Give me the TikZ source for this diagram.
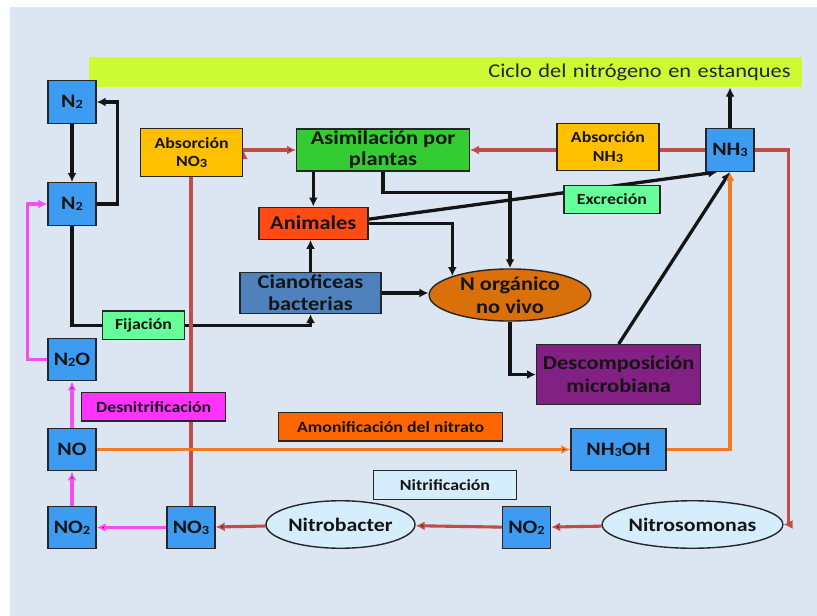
\documentclass[tikz,border=0pt]{standalone}
\usepackage{fontspec}
\setmainfont[FakeStretch=1.15]{Carlito}
\usepackage{tikz}
\usetikzlibrary{arrows}
\usetikzlibrary{arrows.meta}
\usetikzlibrary{shapes.geometric}

\definecolor{panel}{HTML}{DCE6F2}
\definecolor{lime}{HTML}{CCFA33}
\definecolor{chemblue}{HTML}{3D9BF2}
\definecolor{amber}{HTML}{FFC000}
\definecolor{leaf}{HTML}{33CC33}
\definecolor{redorange}{HTML}{FF4B14}
\definecolor{steel}{HTML}{4F81BD}
\definecolor{rustorg}{HTML}{D9700A}
\definecolor{plum}{HTML}{832083}
\definecolor{mint}{HTML}{66FF99}
\definecolor{pink1}{HTML}{FF33FF}
\definecolor{orange1}{HTML}{FF6600}
\definecolor{paleblue}{HTML}{D6EEFB}
\definecolor{rust}{HTML}{BF4E4A}
\definecolor{magline}{HTML}{F64CF6}
\definecolor{orgline}{HTML}{F57A1F}
\definecolor{boxline}{HTML}{262626}
\definecolor{txt}{HTML}{141414}
\definecolor{titletxt}{HTML}{262626}

\pgfdeclarelayer{back}
\pgfdeclarelayer{lines}
\pgfsetlayers{back,lines,main}

\newcommand{\sbs}[1]{\raisebox{-0.1ex}{\fontsize{12.5}{12.5}\selectfont #1}}

\begin{document}
\begin{tikzpicture}[x=1pt,y=-1pt,
	box/.style={draw=boxline,line width=1.4pt,inner sep=0pt,align=center,text=txt},
	chem/.style={box,fill=chemblue,minimum width=48pt,minimum height=42.5pt,font=\fontsize{19}{19}\selectfont\bfseries},
	tag/.style={box,minimum height=28.5pt,font=\fontsize{15.5}{18.5}\selectfont\bfseries},
	big/.style={box,font=\fontsize{19.5}{23}\selectfont\bfseries},
	bug/.style={box,ellipse,fill=paleblue,minimum width=149pt,minimum height=47.5pt,font=\fontsize{19}{19}\selectfont\bfseries},
	ttl/.style={fill=lime,minimum height=30.6pt,text width=691pt,inner xsep=11pt,align=right,text=titletxt,font=\fontsize{19.5}{20}\selectfont},
	blk/.style={line width=3.3pt,draw=black!92,-{Latex[length=9pt,width=9pt]}},
	rst/.style={line width=3.1pt,draw=rust,-{Latex[length=9pt,width=9pt]}},
	mag/.style={line width=3.1pt,draw=magline,-{Latex[length=9pt,width=9pt]}},
	orng/.style={line width=3.1pt,draw=orgline,-{Latex[length=9pt,width=9pt]}}]

	\useasboundingbox (0,0) rectangle (817,616);
	\begin{pgfonlayer}{back}
		\fill[white] (0,0) rectangle (817,616);
		\fill[panel] (10,7) rectangle (817,616);
	\end{pgfonlayer}

	% title
	\node[ttl] (title) at (445.2,72) {Ciclo del nitrógeno en estanques};

	% left column
	\node[chem] (n2a) at (72,102) {N\sbs{2}};
	\node[chem] (n2b) at (72,204) {N\sbs{2}};
	\node[chem] (n2o) at (72,359.5) {N\sbs{2}O};
	\node[chem] (no) at (72,449.5) {NO};
	\node[chem] (no2a) at (72,527.5) {NO\sbs{2}};
	\node[chem] (no3) at (191,527.5) {NO\sbs{3}};
	\node[chem] (no2b) at (526.5,527.5) {NO\sbs{2}};
	\node[chem,minimum width=95pt] (nh3oh) at (618.5,449.5) {NH\sbs{3}OH};
	\node[chem] (nh3) at (730,150) {NH\sbs{3}};

	% bacteria
	\node[bug] (nbac) at (340.5,524.5) {Nitrobacter};
	\node[bug,minimum width=148pt] (nsom) at (692.5,524.5) {Nitrosomonas};

	% labels
	\node[tag,fill=paleblue,minimum width=143pt] (nitri) at (445,485) {Nitrificación};
	\node[tag,fill=orange1,minimum width=224pt] (amon) at (390.7,426.7) {Amonificación del nitrato};
	\node[tag,fill=pink1,minimum width=144pt] (desn) at (153.7,406.7) {Desnitrificación};
	\node[tag,fill=mint,minimum width=82pt] (fij) at (143.5,325.3) {Fijación};
	\node[tag,fill=mint,minimum width=96pt,minimum height=27.5pt] (excr) at (612,199.5) {Excreción};
	\node[tag,fill=amber,minimum width=102pt,minimum height=48pt] (absno3) at (191.7,152.5) {Absorción\\NO\sbs{3}};
	\node[tag,fill=amber,minimum width=102pt,minimum height=47.5pt] (absnh3) at (608,147) {Absorción\\NH\sbs{3}};

	% organisms and matter
	\node[big,fill=leaf,minimum width=172.6pt,minimum height=42pt,font=\fontsize{19.5}{21}\selectfont\bfseries] (asim) at (383,150) {Asimilación por\\plantas};
	\node[big,fill=redorange,minimum width=109pt,minimum height=32pt] (anim) at (313.3,223.2) {Animales};
	\node[big,fill=steel,minimum width=141pt,minimum height=40.7pt,font=\fontsize{19.5}{22}\selectfont\bfseries] (cian) at (310.5,293) {Cianoficeas\\bacterias};
	\node[big,ellipse,fill=rustorg,minimum width=161.7pt,minimum height=52pt,inner sep=0pt] (norg) at (510,295) {N orgánico\\no vivo};
	\node[big,fill=plum,minimum width=164pt,minimum height=59.6pt] (desc) at (618.7,374.5) {Descomposición\\microbiana};

	\begin{pgfonlayer}{lines}
		\path[blk]
		(n2a) edge (n2b)
		(anim.north |- asim.south) edge (anim.north)
		(cian.north) edge (cian.north |- anim.south)
		(cian.east) edge (cian.east -| norg.west)
		([yshift=4pt]anim.east) edge (nh3.240)
		(desc.north) edge (nh3.south)
		(nh3.north) edge (nh3.north |- title.south);
		\draw[blk] (n2b.east) -- ++(21,0) |- (n2a.east);
		\draw[blk] (asim.south) -- ++(0,21) -| (norg.north);
		\draw[blk] (anim.east) -| (norg.north west);
		\draw[blk] (norg.south) |- (desc.west);
		\draw[blk,-] (n2b.south) |- (fij.west);
		\draw[blk] (fij.east) -| (cian.south);

		\path[rst]
		(absno3.east |- asim) edge (asim.west)
		(nsom) edge (no2b)
		(no2b) edge (nbac)
		(nbac) edge (no3);
		\draw[rst] (absnh3.west |- asim) -- (asim.east);
		\draw[rst,-] (no3.north) -- (no3.north |- absno3.south);
		\draw[rst,-] (nh3.west) -- (absnh3.east |- nh3.west);
		\draw[rst] (nh3.east) -- ++(34,0) |- (nsom.east);

		\path[mag]
		(no3) edge (no2a)
		(no2a) edge (no)
		(no) edge (n2o);
		\draw[mag] (n2o.west) -- ++(-20,0) |- (n2b.west);

		\path[orng] (no) edge (nh3oh);
		\draw[orng] (nh3oh.east) -| (nh3.south);
	\end{pgfonlayer}
\end{tikzpicture}
\end{document}
